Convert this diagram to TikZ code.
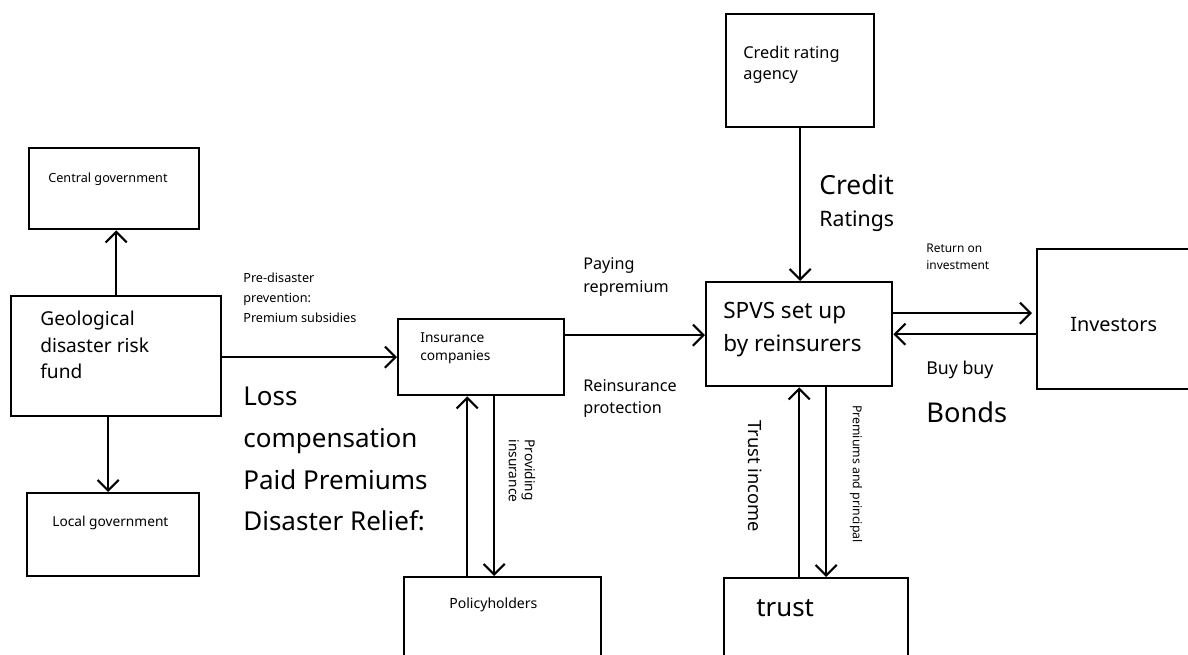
\documentclass[tikz,border=0pt]{standalone}
\usepackage{fontspec}
\setmainfont{Noto Sans}
\usetikzlibrary{arrows.meta}
\tikzset{
  box/.style={draw, line width=1.4pt, anchor=north west, inner sep=0pt},
  arr/.style={line width=1.2pt, -{Straight Barb[length=6pt, width=12pt, line width=1.2pt]}},
  txt/.style={anchor=base west, align=left, inner sep=0pt},
  vtxt/.style={anchor=center, align=left, inner sep=0pt, rotate=-90}
}
\begin{document}
\begin{tikzpicture}[x=0.02cm, y=-0.02cm]
\useasboundingbox (0,0) rectangle (1188,655);
\clip (0,0) rectangle (1188,655);
\node[box, minimum width=3.4cm, minimum height=1.62cm] (central) at (28,147) {};
\node[box, minimum width=4.2cm, minimum height=2.4cm] (geo) at (10,295) {};
\node[box, minimum width=3.44cm, minimum height=1.66cm] (local) at (26,492) {};
\node[box, minimum width=3.32cm, minimum height=1.52cm] (ins) at (397,318) {};
\node[box, minimum width=3.94cm, minimum height=2cm] (policy) at (403,576) {};
\node[box, minimum width=2.96cm, minimum height=2.26cm] (credit) at (725,13) {};
\node[box, minimum width=3.72cm, minimum height=2.08cm] (spv) at (705,281) {};
\node[box, minimum width=3.1cm, minimum height=2.8cm] (inv) at (1036,248) {};
\node[box, minimum width=3.68cm, minimum height=2cm] (trust) at (723,577) {};
\node[txt, font=\fontsize{7.2}{10}\selectfont] (centraltxt) at (48,183) {Central government};
\node[txt, font=\fontsize{10.9}{15.3}\selectfont] (geotxt) at (40,379) {Geological\\disaster risk\\fund};
\node[txt, font=\fontsize{7.8}{10}\selectfont] (localtxt) at (52,526) {Local government};
\node[txt, font=\fontsize{7.8}{10.8}\selectfont] (instxt) at (420,361) {Insurance\\companies};
\node[txt, font=\fontsize{8}{10}\selectfont] (policytxt) at (449,608) {Policyholders};
\node[txt, font=\fontsize{9.3}{12.5}\selectfont] (credittxt) at (743,80) {Credit rating\\agency};
\node[txt, font=\fontsize{12.8}{19.3}\selectfont] (spvtxt) at (723,352) {SPVS set up\\by reinsurers};
\node[txt, font=\fontsize{11.3}{14}\selectfont] (invtxt) at (1070,332) {Investors};
\node[txt, font=\fontsize{14.7}{18}\selectfont] (trusttxt) at (756,617) {trust};
\draw[arr] (geo.north) -- (geo.north |- central.south);
\draw[arr] ([xshift=-0.16cm]geo.south) coordinate (g1) -- (g1 |- local.north);
\draw[arr] (geo.east |- ins.west) -- (ins.west);
\draw[arr] ([yshift=0.44cm]ins.east) coordinate (i1) -- (i1 -| spv.west);
\draw[arr] (credit.south) -- (credit.south |- spv.north);
\draw[arr] ([yshift=0.42cm]spv.east) coordinate (s1) -- ([xshift=-0.08cm]s1 -| inv.west);
\draw[arr] (spv.east -| inv.west) -- (spv.east);
\draw[arr] ([xshift=-0.28cm]ins.south) coordinate (p1) (p1 |- policy.north) -- (p1);
\draw[arr] ([xshift=0.26cm]ins.south) coordinate (p2) -- (p2 |- policy.north);
\draw[arr] (spv.south |- trust.north) -- (spv.south);
\draw[arr] ([xshift=0.54cm]spv.south) coordinate (t1) -- (t1 |- trust.north);
\node[txt, font=\fontsize{7.2}{11.4}\selectfont] (prelbl) at (243,323) {Pre-disaster\\prevention:\\Premium subsidies};
\node[txt, font=\fontsize{14.8}{23.8}\selectfont] (losslbl) at (243,531) {Loss\\compensation\\Paid Premiums\\Disaster Relief:};
\node[txt, font=\fontsize{9.2}{13.6}\selectfont] (paylbl) at (583,293) {Paying\\repremium};
\node[txt, font=\fontsize{9.2}{12.8}\selectfont] (reinslbl) at (583,414) {Reinsurance\\protection};
\node[txt, font=\fontsize{15}{18}\selectfont] (creditlbl) at (819,195) {Credit};
\node[txt, font=\fontsize{12.1}{15}\selectfont] (ratinglbl) at (819,227) {Ratings};
\node[txt, font=\fontsize{6.8}{10.2}\selectfont] (returnlbl) at (926,270) {Return on\\investment};
\node[txt, font=\fontsize{10.1}{13}\selectfont] (buylbl) at (926,375) {Buy buy};
\node[txt, font=\fontsize{15.5}{18}\selectfont] (bondslbl) at (926,423) {Bonds};
\node[vtxt, font=\fontsize{10.4}{13}\selectfont] (incomelbl) at (755,476) {Trust income};
\node[vtxt, font=\fontsize{7}{9}\selectfont] (premlbl) at (856,474) {Premiums and principal};
\node[vtxt, font=\fontsize{7.8}{9}\selectfont] (providelbl) at (522,471) {Providing\\insurance};
\end{tikzpicture}
\end{document}
